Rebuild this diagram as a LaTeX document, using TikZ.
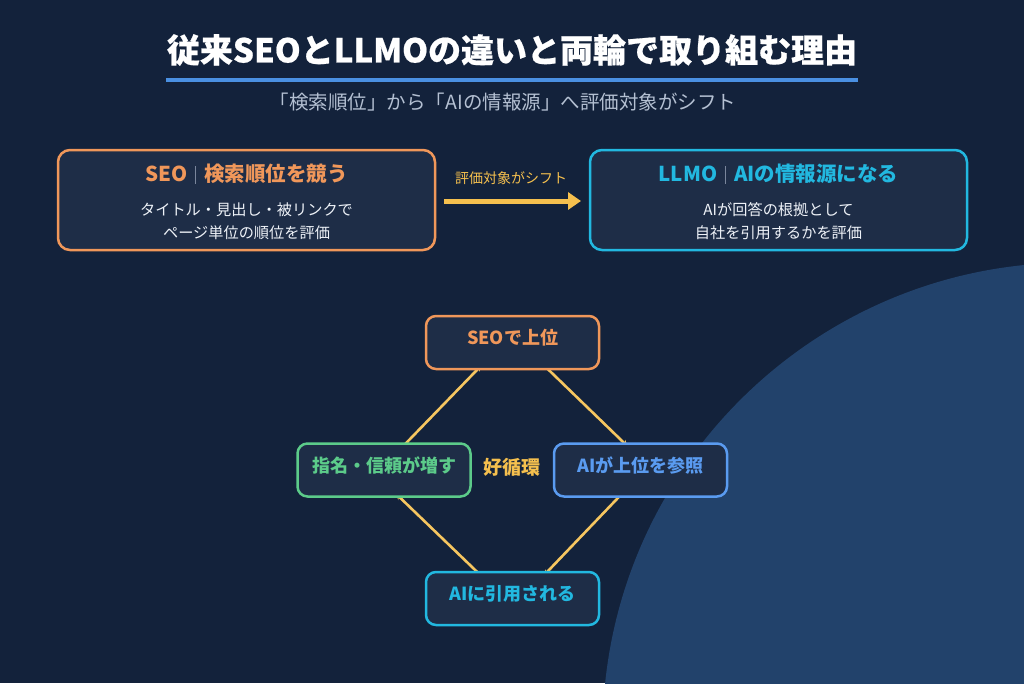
\documentclass[tikz,border=0pt]{standalone}
\usepackage{fontspec}
\setmainfont{Noto Sans CJK JP}
\newfontfamily\heavyfont{Noto Sans CJK JP}[BoldFeatures={FakeBold=0.6}]
\usetikzlibrary{calc,arrows.meta}
\pgfdeclarelayer{bottom}
\pgfdeclarelayer{background}
\pgfsetlayers{bottom,background,main}
\definecolor{bg}{HTML}{13223B}
\definecolor{boxfill}{HTML}{1E2D47}
\definecolor{circ}{HTML}{22426B}
\definecolor{cOrange}{HTML}{F0975A}
\definecolor{cCyan}{HTML}{22B8E0}
\definecolor{cBlue}{HTML}{5A9BF0}
\definecolor{cGreen}{HTML}{5CCB8A}
\definecolor{cYellow}{HTML}{F5C04E}
\definecolor{cLine}{HTML}{4A90E2}
\definecolor{subgray}{HTML}{B4C0D2}
\definecolor{sepgray}{HTML}{7A869C}
\definecolor{bodywhite}{HTML}{EEF2F8}
\tikzset{
  bigbox/.style={draw, line width=2.5pt, fill=boxfill, rounded corners=12pt, minimum width=377pt, minimum height=100pt, inner sep=0pt},
  cycbox/.style={draw, line width=2.5pt, fill=boxfill, rounded corners=10pt, minimum width=173pt, minimum height=53pt, inner sep=0pt, text height=13pt, text depth=9pt, font=\bfseries\fontsize{18}{20}\selectfont},
  headtxt/.style={font=\bfseries\fontsize{20.5}{24}\selectfont, inner sep=0pt},
  bodytxt/.style={font=\fontsize{15.2}{23}\selectfont, text=bodywhite, align=center, inner sep=0pt},
  cycline/.style={draw=cYellow!90, line width=2.6pt, -{Stealth[length=6pt,width=6pt]}},
}
\newcommand{\sepbar}{\hspace{8pt}{\color{sepgray}\rule[-2pt]{0.8pt}{18pt}}\hspace{8pt}}
\begin{document}
\begin{tikzpicture}[x=1pt,y=-1pt]
\begin{pgfonlayer}{bottom}
\fill[bg] (0,0) rectangle (1024,683);
\begin{scope}
\clip (0,0) rectangle (1024,683);
\fill[circ] (1072,732) circle (469.4);
\end{scope}
\end{pgfonlayer}
\useasboundingbox (0,0) rectangle (1024,683);
% title
\node[font=\heavyfont\bfseries\fontsize{33}{36}\selectfont, text=white, inner sep=0pt] (title) at (512,50) {従来SEOとLLMOの違いと両輪で取り組む理由};
\coordinate (ulL) at (166,80);
\coordinate (ulR) at (858,80);
\draw[cLine, line width=4pt] (ulL) -- (ulR);
\node[font=\fontsize{19.5}{22}\selectfont, text=subgray, inner sep=0pt] (sub) at (503,102) {「検索順位」から「AIの情報源」へ評価対象がシフト};
% top boxes
\node[bigbox, draw=cOrange] (seo) at (246.5,200) {};
\node[headtxt, text=cOrange] (seoh) at ($(seo.center)+(0,-26)$) {SEO\sepbar 検索順位を競う};
\node[bodytxt] (seob) at ($(seo.center)+(0,21.5)$) {タイトル・見出し・被リンクで\\ページ単位の順位を評価};
\node[bigbox, draw=cCyan] (llmo) at (778.5,200) {};
\node[headtxt, text=cCyan] (llmoh) at ($(llmo.center)+(0,-26)$) {LLMO\sepbar AIの情報源になる};
\node[bodytxt] (llmob) at ($(llmo.center)+(0,21.5)$) {AIが回答の根拠として\\自社を引用するかを評価};
% shift arrow
\coordinate (arrS) at (444,201);
\coordinate (arrE) at (581,201);
\draw[cYellow, line width=5pt, -{Triangle[length=13pt,width=17pt]}] (arrS) -- (arrE);
\node[font=\fontsize{14}{16}\selectfont, text=cYellow, inner sep=0pt] (shiftlbl) at (511,178) {評価対象がシフト};
% cycle boxes
\node[cycbox, draw=cOrange, text=cOrange] (top) at (512.5,342.5) {SEOで上位};
\node[cycbox, draw=cBlue, text=cBlue] (right) at (640.5,470) {AIが上位を参照};
\node[cycbox, draw=cCyan, text=cCyan] (bot) at (512.5,598.5) {AIに引用される};
\node[cycbox, draw=cGreen, text=cGreen] (left) at (384,470) {指名・信頼が増す};
\node[font=\bfseries\fontsize{19}{22}\selectfont, text=cYellow, inner sep=0pt] (loop) at (512,467) {好循環};
% cycle connectors
\begin{pgfonlayer}{background}
\draw[cycline] ($(top.south)+(34.5,-2)$) -- ($(right.north)+(-13,4)$);
\draw[cycline] ($(right.south)+(-20.5,-2)$) -- ($(bot.north)+(31,5)$);
\draw[cycline] ($(bot.north)+(-34.5,2)$) -- ($(left.south)+(12,-4)$);
\draw[cycline] ($(left.north)+(21,2)$) -- ($(top.south)+(-31,-5)$);
\end{pgfonlayer}
\end{tikzpicture}
\end{document}
